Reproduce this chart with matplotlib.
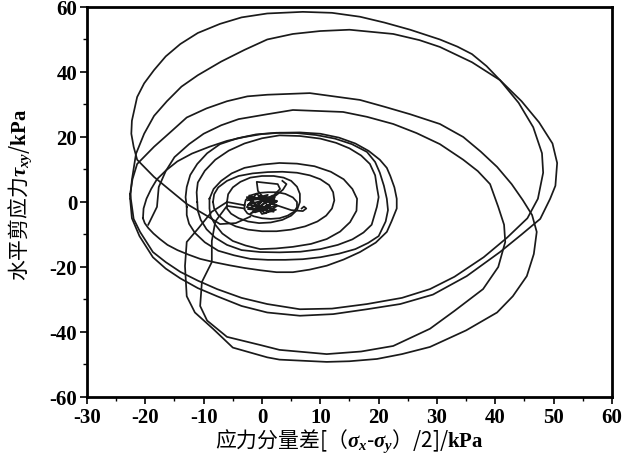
import matplotlib
matplotlib.use("Agg")
import matplotlib.pyplot as plt
from matplotlib.ticker import MultipleLocator

plt.rcParams['mathtext.fontset'] = 'custom'
plt.rcParams['mathtext.rm'] = 'Liberation Serif'
plt.rcParams['mathtext.it'] = 'Liberation Serif:italic:bold'
plt.rcParams['mathtext.bf'] = 'Liberation Serif:bold'
plt.rcParams['axes.unicode_minus'] = False

# stress path, read off the picture stroke by stroke  (x, y) in kPa
# centre scribble
knot_x = [-2.5, 1.0, -1.5, 2.5, -2.6, 0.5, 2.6, -1.0, -2.6, 2.0, -0.5, 2.6, -2.0, 1.5, -2.4, 2.4, 0.0, -2.2, 2.5, -1.2, 1.8, -2.4, 0.8, 2.2, -1.8]
knot_y = [0.5, 2.2, -2.8, 0.0, 1.5, -3.5, -1.2, 2.5, -1.6, -3.0, 1.8, 0.3, -3.6, 1.2, -0.8, -2.4, -3.7, 2.0, -1.0, -3.2, 2.0, -2.2, -2.6, 1.4, 0.6]
trap_x = [0.2, -0.7, -0.9, 2.7, 3.1, 1.7, 0.2, 1.0, 3.6, 4.2, 3.5]
trap_y = [1.5, 3.4, 6.2, 5.5, 4.0, 1.5, 1.5, 0.0, 3.8, 5.5, 6.5]
tail_x = [2.5, 5.0, 7.0, 7.6, 7.2, 6.8]
tail_y = [-1.0, -2.5, -2.8, -2.0, -1.4, -2.0]

# small and middle loops
s1_x = [-3, -2.8, -2, -0.5, 1, 2.6, 4, 5.3, 6, 6, 5.5, 4.4, 3, 1.5, 0, -1.4, -2.5, -3, -3]
s1_y = [-1, 0.6, 2, 2.8, 3, 3, 2.5, 1.4, 0, -1.6, -3, -4.2, -5, -5.2, -5, -4.4, -3.5, -2.3, -1]
s2_x = [-6, -5.8, -5, -3.7, -2, 0, 2, 3.7, 5, 6, 6.5, 6.5, 6, 5, 3.5, 1.5, -0.5, -2.4, -4, -5.3, -6, -6]
s2_y = [0, 2.4, 4.5, 6.2, 7.5, 8, 8, 7.5, 6.5, 4.7, 2.5, 0, -2.5, -4.2, -5.5, -6.3, -6.5, -6, -5, -3.6, -2, 0]
s3_x = [-8.4, -8.2, -7.5, -6, -4, -1.6, 1, 3.5, 6, 8.2, 10, 11.5, 12.2, 12.4, 12, 11, 9.5, 7.4, 5, 2.5, 0, -2.4, -4.5, -6.2, -7.5, -8.2, -8.4]
s3_y = [0, 2.4, 4.5, 6.5, 8, 8.8, 9.2, 9.3, 9, 8.2, 7, 5.2, 3, 0.5, -2, -4.2, -6, -7.5, -8.5, -9, -9, -8.5, -7.5, -6, -4, -2, 0]
s4_x = [-9, -8.3, -7, -5.2, -3, 0, 3, 6, 9, 11.8, 14, 15.5, 16.3, 16.2, 15.1, 13.4, 11.1, 8.4, 5.3, 2.4, -0.3, -2.8, -5, -6.8, -8, -8.8, -9, -9]
s4_y = [1, 4, 6.5, 8.8, 10.5, 11.5, 12, 11.8, 11, 9.3, 7, 4, 1, -2.7, -6.2, -9.1, -11.4, -12.9, -13.8, -14.3, -14.5, -13.4, -12, -9.7, -7, -4.4, -2, 1]
s5_x = [-11.1, -11.2, -11, -9.8, -8, -5.7, -3, 0, 3, 6.5, 10, 12.7, 15, 17, 18.5, 19.4, 19.7, 20, 19.7, 18.8, 17.4, 15.5,
        13, 10, 6.6, 3, -0.3, -3.5, -6, -8, -9.5, -10.5, -11, -11.1]
s5_y = [0, 3, 6, 9.6, 13, 15.8, 18, 19.6, 20.5, 20.3, 19.5, 18.2, 16.5, 14.3, 11.7, 8.2, 4.6, 1.5, -1.5, -7, -9.4, -11.5,
        -13.2, -14.5, -15.3, -15.5, -15.4, -14.8, -13.2, -11, -8.4, -5.5, -2.7, 0]
s6_x = [-12.9, -13.1, -12.9, -12.3, -11.1, -9.4, -7.2, -4.2, -1, 2.5, 6, 9.3, 12.5, 15.4, 18, 19.4, 20.2, 20.9, 21.4, 21.6, 21.2, 20,
        18.2, 16, 13.2, 10, 7, 4, 1, -2, -4.8, -7.5, -9.8, -11.5, -12.5, -12.9, -12.9]
s6_y = [-1.5, 1.5, 4.6, 8.3, 11.7, 15, 17.8, 19.6, 20.8, 21.3, 21.2, 20.6, 19.5, 17.8, 15.4, 12.3, 9, 5, 1, -2.5, -6, -10.5,
        -12.6, -14.5, -15.9, -17, -17.6, -17.8, -17.8, -17.5, -16.4, -15, -12.4, -9.5, -6.7, -4, -1.5]
s7_x = [-20.4, -20.3, -19.8, -19, -18, -16.4, -14.5, -12, -9, -6, -3, 0, 3, 6.5, 10, 13.2, 16, 18.3, 20.2, 21.4, 22, 22.7, 23.1, 23.1, 22.2,
        21.4, 19.5, 16.8, 14, 11.1, 8.2, 5.3, 2.5, -0.3, -3, -5.5, -8, -10.6, -12.6, -14.5, -16.2, -17.5, -18.6, -19.5, -20.1, -20.4]
s7_y = [-5, -2, 1, 4, 7, 9.8, 12.5, 14.9, 17, 18.8, 20, 20.9, 21.3, 21.4, 21, 19.8, 18, 15.7, 13, 10.5, 8, 4.5, 1, -2, -6,
        -9.2, -12.5, -15.4, -17.7, -19.6, -20.8, -21.6, -21.6, -21, -20.3, -19.5, -18.6, -17.5, -16.2, -14.8, -13.2, -11.4, -9.7, -8, -6.5, -5]

# big loops
big1_x = [-2, -4.5, -7.2, -9.4, -12.9, -15, -18.5, -21.4, -22, -22.4, -22.3, -21.4, -20.2, -18.5, -16.5, -14, -11, -7.2, -3.5, 0.9, 7, 12, 16.8, 21, 25.4, 30.5,
          33.5, 36, 38.5, 40.8, 44.5, 47.5, 49.8, 50.6, 50.3, 49.4, 47.7, 44.5, 40.8, 35.1, 29.3, 23.7, 18, 12.2, 6.5, 0.9,
          -3.5, -7.7, -11, -14, -16.5, -18.7, -21, -22.3, -22.6]
big1_y = [-4.5, -6.5, -6.8, -4.3, -0.6, 2.5, 7.7, 13, 17, 21, 25, 32.3, 36.5, 40.6, 44.8, 48.6, 52, 54.8, 56.8, 58, 58.5, 58.2, 57, 55.2, 53, 50,
          47.8, 45.5, 41.8, 37.5, 31, 24.5, 18, 12, 5, 1, -5.2, -10, -15.4, -22.8, -28.5, -31.4, -33, -34.5, -35, -34,
          -32, -29, -26.5, -23.5, -20.5, -17, -10.5, -5, 1]
big2_x = [-22.6, -22.3, -21.6, -20.2, -18.5, -16.3, -13.8, -11, -7, -3, 0.9, 5.3, 10, 15, 22.5, 27, 30.5, 36, 40.8, 44, 46.5, 48, 48.2, 47.3,
          45.5, 42, 38, 33, 28.8, 24, 18, 12, 6.5, 0.9, -3.5, -7.7, -11, -14, -16.5, -18.7, -20.9, -22, -22.6]
big2_y = [1, 6.8, 14.8, 21, 26.5, 31, 35.5, 39, 43.2, 46.8, 50, 51.7, 52.6, 53, 51.7, 49.8, 47.7, 43, 37.5, 30.5, 23, 15, 9, 1,
          -5, -11, -17, -23, -26.8, -29.5, -31.4, -32.8, -33, -31.4, -29.5, -26.8, -24.2, -21.5, -18.5, -15.4, -9.2, -5.2, 2.5]
big3_x = [-22.6, -22.2, -21.4, -18.5, -15.5, -12.9, -9.5, -6, -2.5, 0.9, 8.2, 16.8, 21, 25.4, 30.5, 34.5, 37.5, 40.3, 42.8, 44.7, 46.3, 47.1,
          46.6, 45.4, 43, 40.3, 35, 28.8, 24, 19.7, 15, 11.1, 3, 0.9, -5, -8.4, -11.5, -12.9, -13.2, -12.9, -11, -8.6, -6, -3]
big3_y = [2.5, 7, 11.7, 17, 21.8, 26, 28.8, 31, 32.5, 33, 33.5, 31.4, 29.3, 27, 24, 20, 15.5, 10.8, 5.5, 0.6, -4, -9.2,
          -16, -22.8, -29, -34, -39.5, -44.6, -46.8, -48.3, -49, -49.2, -48.5, -47.8, -44.8, -39, -34, -29, -19.7, -12.3, -8.3, -3, 0, -1]
big4_x = [-19.5, -18, -17.7, -16.5, -15, -12.5, -10, -7, -4, 0.9, 5.3, 13.9, 18, 22.5, 26.5, 30.5, 34.5, 37, 39.1, 40.5, 41.5, 41.7, 40.5, 37.9,
          33, 28.8, 22.5, 17, 11.1, 3, -0.3, -6, -9.4, -10.6, -10.3, -8.6, -8.6, -8, -6, -3]
big4_y = [-7, -1.5, 4.6, 9.5, 13.8, 17.8, 21, 23.6, 25.5, 27, 28.3, 27.7, 26.2, 24, 21.2, 17.8, 13, 9.5, 5.5, -1.5, -7, -12.3, -20, -26.8,
          -33.5, -39, -44.3, -46, -46.8, -45.5, -44, -41.5, -36.5, -32, -24.6, -18.5, -12, -6, -1.2, -2]

strokes = [(knot_x, knot_y), (trap_x, trap_y), (tail_x, tail_y),
           (s1_x, s1_y), (s2_x, s2_y), (s3_x, s3_y), (s4_x, s4_y),
           (s5_x, s5_y), (s6_x, s6_y), (s7_x, s7_y),
           (big1_x, big1_y), (big2_x, big2_y), (big3_x, big3_y), (big4_x, big4_y)]

fig = plt.figure(figsize=(6.28, 4.56), dpi=100)
ax = fig.add_axes([0.1385, 0.1272, 0.836, 0.8553])

for xs, ys in strokes:
    ax.plot(xs, ys, color='#1a1a1a', lw=1.25, solid_joinstyle='round')

ax.set_xlim(-30, 60)
ax.set_ylim(-60, 60)
ax.xaxis.set_major_locator(MultipleLocator(10))
ax.xaxis.set_minor_locator(MultipleLocator(5))
ax.yaxis.set_major_locator(MultipleLocator(20))
ax.yaxis.set_minor_locator(MultipleLocator(10))
ax.tick_params(which='major', direction='out', length=5, width=1.2, pad=2)
ax.tick_params(which='minor', direction='out', length=3, width=1.0)
for s in ax.spines.values():
    s.set_linewidth(2.0)
for lab in ax.get_xticklabels() + ax.get_yticklabels():
    lab.set_fontfamily('Liberation Serif')
    lab.set_fontweight('bold')
    lab.set_fontsize(15)

cjk = 'Noto Sans CJK SC'
ax.set_xlabel('应力分量差[（$\\mathit{\\sigma_x}$-$\\mathit{\\sigma_y}$）/2]/$\\mathbf{kPa}$',
              family=cjk, fontsize=15, labelpad=0)
ax.set_ylabel('水平剪应力$\\mathit{\\tau_{xy}}$/$\\mathbf{kPa}$', family=cjk, fontsize=15, labelpad=2)
ax.yaxis.set_label_coords(-0.1, 0.52)

fig.savefig('out.png', dpi=100)
